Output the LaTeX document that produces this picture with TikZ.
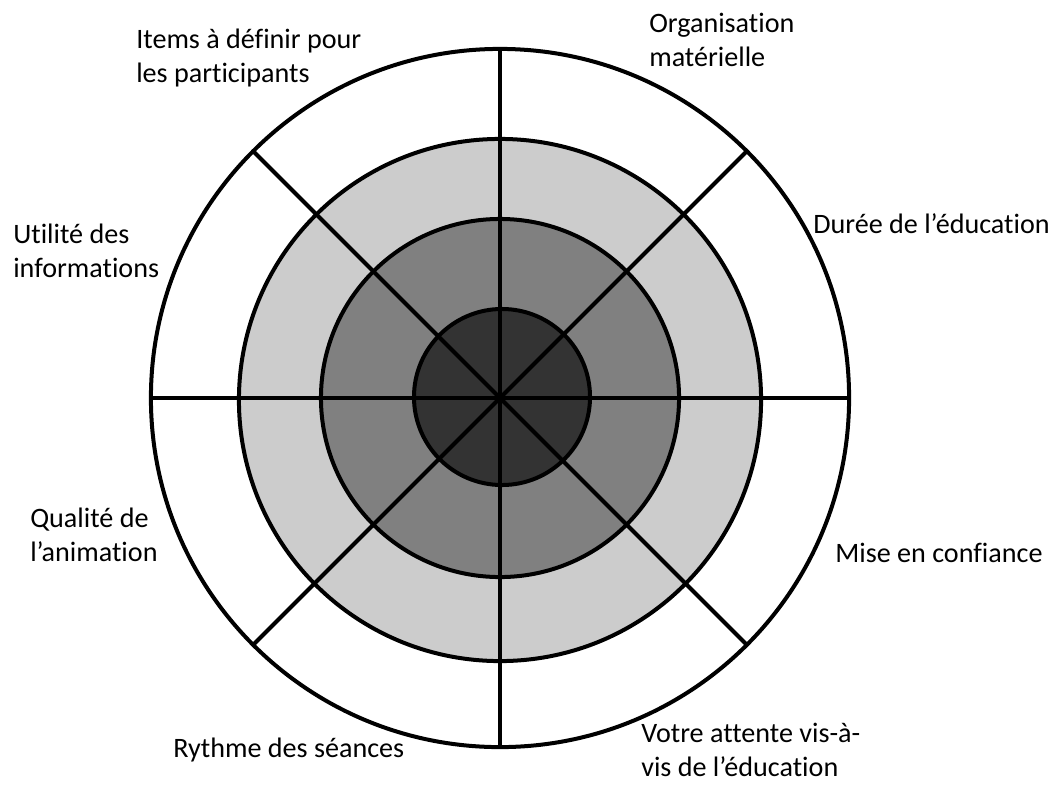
\documentclass[tikz,border=0pt]{standalone}
\usepackage{fontspec}
\setmainfont{Carlito}[Ligatures=NoCommon]
\definecolor{ringlight}{RGB}{204,204,204}
\definecolor{ringmid}{RGB}{128,128,128}
\definecolor{ringdark}{RGB}{51,51,51}
\tikzset{
	ring/.style={circle,draw=black,line width=0.1cm,inner sep=0pt,outer sep=0pt,minimum size=#1},
	spoke/.style={draw=black,line width=0.1cm},
	label/.style={anchor=base west,align=left,inner sep=0pt,font=\fontsize{20}{23.5}\selectfont}
}
\begin{document}
\begin{tikzpicture}[x=0.025cm,y=-0.025cm]
	\useasboundingbox (0,0) rectangle (1058,785);
	\node[ring=17.45cm,fill=white] (outer) at (500,398) {};
	\node[ring=13.05cm,fill=ringlight] (light) at (500,400) {};
	\node[ring=8.95cm,fill=ringmid] (mid) at (500,398) {};
	\node[ring=4.4cm,fill=ringdark] (dark) at (502,397) {};
	\coordinate (center) at (500,398);
	\foreach \a in {0,45,...,315}
		\draw[spoke] (center) -- (outer.\a);
	\node[label] (items) at (136,82) {Items à définir pour\\les participants};
	\node[label] (orga) at (649,66) {Organisation\\matérielle};
	\node[label] (duree) at (813,233) {Durée de l’éducation};
	\node[label] (utilite) at (13,277) {Utilité des\\informations};
	\node[label] (qualite) at (30,561) {Qualité de\\l’animation};
	\node[label] (mise) at (835,562) {Mise en confiance};
	\node[label] (rythme) at (173,757) {Rythme des séances};
	\node[label] (attente) at (641,776) {Votre attente vis-à-\\vis de l’éducation};
\end{tikzpicture}
\end{document}
